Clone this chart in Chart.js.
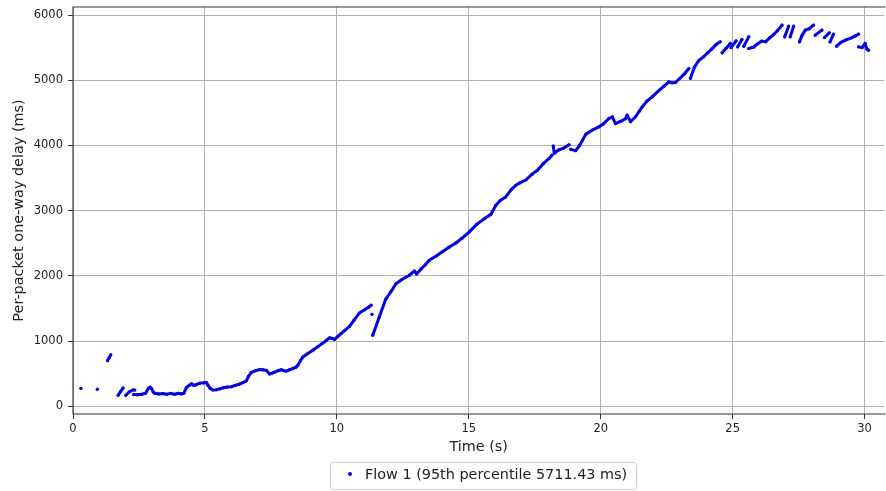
<!DOCTYPE html>
<html>
<head>
<meta charset="utf-8">
<script src="https://cdn.jsdelivr.net/npm/chart.js@4.4.1/dist/chart.umd.min.js"></script>
<style>
  html, body { margin: 0; padding: 0; background: #fff; }
</style>
</head>
<body>
<canvas id="chart" width="886" height="491"></canvas>
<script>
// time (s) and per-packet delay (ms), null = gap between runs of packets
const times = [
  0.30, null,
  0.92, null,
  1.31, 1.37, 1.43, null,
  1.71, 1.80, 1.90, null,
  2.00, 2.13, 2.26, 2.34, null,
  2.30, 2.45, 2.60, 2.75, 2.85, 2.92, 2.98, 3.04, 3.10, 3.25, 3.40, 3.55, 3.70, 3.85, 4.00, 4.10, 4.20,
  4.30, 4.40, 4.49, 4.58, 4.66, 4.80, 4.95, 5.06, 5.12, 5.20, 5.31, 5.45, 5.56, 5.70, 5.85, 6.00, 6.15,
  6.30, 6.45, 6.57, 6.65, 6.76, 6.90, 7.07, 7.20, 7.33, 7.45, 7.55, 7.64, 7.76, 7.89, 8.00, 8.08, 8.20,
  8.33, 8.45, 8.52, 8.62, 8.71, 8.90, 9.09, 9.28, 9.47, 9.60, 9.72, 9.82, 9.91, 10.05, 10.16, 10.30,
  10.48, 10.65, 10.85, 11.05, 11.20, 11.30, null,
  11.33, null,
  11.36, 11.60, 11.85, 12.05, 12.24, 12.45, 12.60, 12.75, 12.94, 13.02, 13.20, 13.35, 13.50, 13.75,
  14.00, 14.25, 14.51, 14.75, 15.02, 15.30, 15.60, 15.84, 16.02, 16.20, 16.40, 16.60, 16.78, 16.95,
  17.16, 17.40, 17.60, 17.82, 18.04, 18.15, null,
  18.20, 18.24, 18.40, 18.60, 18.80, null,
  18.86, 19.05, 19.20, 19.43, 19.70, 19.93, 20.10, 20.30, 20.44, 20.56, 20.75, 20.94, 21.00, 21.13,
  21.32, 21.45, 21.57, 21.75, 21.95, 22.20, 22.40, 22.58, 22.70, 22.83, 23.00, 23.20, 23.34, null,
  23.40, 23.55, 23.71, 23.90, 24.05, 24.21, 24.38, 24.53, null,
  24.60, 24.75, 24.91, null,
  24.94, 25.13, null,
  25.19, 25.35, null,
  25.42, 25.61, null,
  25.61, 25.80, 25.95, 26.10, 26.25, 26.40, 26.55, 26.70, 26.87, null,
  26.97, 27.12, null,
  27.18, 27.31, null,
  27.53, 27.62, 27.75, 27.90, 28.06, null,
  28.13, 28.38, null,
  28.48, 28.66, null,
  28.69, 28.82, null,
  28.94, 29.10, 29.30, 29.50, 29.65, 29.77, null,
  29.77, 29.90, 30.02, 30.08, 30.15
];
const delays = [
  276, null,
  262, null,
  700, 745, 790, null,
  169, 225, 281, null,
  169, 220, 250, 250, null,
  180, 178, 185, 200, 270, 295, 270, 220, 200, 190, 195, 185, 198, 185, 200, 190, 200,
  290, 320, 345, 320, 330, 355, 360, 365, 320, 275, 250, 255, 268, 285, 295, 300, 320,
  340, 365, 390, 460, 520, 545, 563, 560, 550, 495, 510, 525, 545, 560, 545, 540, 560,
  578, 600, 630, 700, 756, 810, 860, 915, 970, 1010, 1050, 1040, 1025, 1075, 1115, 1165,
  1225, 1320, 1430, 1480, 1520, 1550, null,
  1410, null,
  1090, 1360, 1640, 1760, 1880, 1940, 1975, 2010, 2075, 2030, 2110, 2170, 2240, 2300,
  2370, 2440, 2505, 2580, 2675, 2790, 2880, 2945, 3080, 3160, 3210, 3320, 3390, 3430,
  3470, 3560, 3620, 3720, 3800, 3850, null,
  3990, 3880, 3930, 3960, 4010, null,
  3940, 3920, 4000, 4170, 4240, 4285, 4330, 4410, 4440, 4335, 4370, 4410, 4465, 4365,
  4440, 4520, 4590, 4680, 4745, 4840, 4910, 4975, 4960, 4965, 5030, 5110, 5180, null,
  5030, 5200, 5300, 5360, 5420, 5480, 5550, 5590, null,
  5420, 5490, 5564, null,
  5500, 5604, null,
  5512, 5625, null,
  5522, 5665, null,
  5487, 5510, 5560, 5600, 5590, 5650, 5700, 5760, 5845, null,
  5665, 5829, null,
  5665, 5829, null,
  5589, 5680, 5768, 5790, 5845, null,
  5691, 5768, null,
  5655, 5727, null,
  5589, 5706, null,
  5522, 5580, 5620, 5650, 5680, 5706, null,
  5512, 5500, 5564, 5480, 5461
];
const xTicks = [0, 5, 10, 15, 20, 25, 30];
const yTicks = [0, 1000, 2000, 3000, 4000, 5000, 6000];
const seriesLabel = 'Flow 1 (95th percentile 5711.43 ms)';

const fontFamily = '"DejaVu Sans", sans-serif';
const points = times.map((t, i) => ({ x: t, y: delays[i] }));

// plot frame + matplotlib-like legend box
const framePlugin = {
  id: 'frame',
  afterDraw(chart) {
    const ctx = chart.ctx;
    const a = chart.chartArea;
    ctx.save();
    ctx.strokeStyle = '#333';
    ctx.lineWidth = 1.1;
    ctx.beginPath();
    ctx.moveTo(a.right + 1, a.top);
    ctx.lineTo(a.left, a.top);
    ctx.lineTo(a.left, a.bottom);
    ctx.lineTo(a.right + 1, a.bottom);
    ctx.stroke();

    // legend
    let bx = 330.5, by = 462.5, bw = 306, bh = 27, r = 3;
    ctx.fillStyle = '#fff';
    ctx.strokeStyle = '#cccccc';
    ctx.lineWidth = 1;
    ctx.beginPath();
    ctx.moveTo(bx + r, by);
    ctx.arcTo(bx + bw, by, bx + bw, by + bh, r);
    ctx.arcTo(bx + bw, by + bh, bx, by + bh, r);
    ctx.arcTo(bx, by + bh, bx, by, r);
    ctx.arcTo(bx, by, bx + bw, by, r);
    ctx.closePath();
    ctx.fill();
    ctx.stroke();
    ctx.fillStyle = '#0000ff';
    ctx.beginPath();
    ctx.arc(350, 474, 2, 0, Math.PI * 2);
    ctx.fill();
    ctx.fillStyle = '#222';
    ctx.font = '14.4px ' + fontFamily;
    ctx.textBaseline = 'middle';
    ctx.textAlign = 'left';
    ctx.fillText(seriesLabel, 365, 475);
    ctx.restore();
  }
};

const ctx = document.getElementById('chart').getContext('2d');
new Chart(ctx, {
  type: 'scatter',
  data: {
    datasets: [{
      label: seriesLabel,
      data: points,
      showLine: true,
      spanGaps: false,
      borderColor: '#0000ff',
      backgroundColor: '#0000ff',
      borderWidth: 3,
      borderCapStyle: 'round',
      borderJoinStyle: 'round',
      pointRadius: 1.6,
      pointBorderWidth: 0,
      pointHoverRadius: 0
    }]
  },
  options: {
    responsive: false,
    animation: false,
    events: [],
    layout: { padding: { left: 0, right: 0, top: 7, bottom: 27 } },
    plugins: {
      legend: { display: false },
      tooltip: { enabled: false }
    },
    scales: {
      x: {
        type: 'linear',
        min: 0,
        max: 30.75,
        afterFit(scale) {
          scale.height = 50;
          scale.paddingLeft = 0;
          scale.paddingRight = 0;
        },
        afterBuildTicks(scale) { scale.ticks = xTicks.map(v => ({ value: v })); },
        grid: { color: '#b0b0b0', lineWidth: 1, tickColor: '#333', tickLength: 5 },
        border: { display: false },
        ticks: {
          font: { family: fontFamily, size: 11.5 }, color: '#222', padding: 3, maxRotation: 0,
          callback: v => String(v)
        },
        title: {
          display: true, text: 'Time (s)', color: '#222',
          font: { family: fontFamily, size: 14.4 }, padding: { top: 0, bottom: 8 }
        }
      },
      y: {
        type: 'linear',
        min: -118,
        max: 6123,
        afterFit(scale) {
          scale.width = 73;
          scale.paddingTop = 0;
          scale.paddingBottom = 0;
        },
        afterBuildTicks(scale) { scale.ticks = yTicks.map(v => ({ value: v })); },
        grid: { color: '#b0b0b0', lineWidth: 1, tickColor: '#333', tickLength: 5 },
        border: { display: false },
        ticks: {
          font: { family: fontFamily, size: 11.5 }, color: '#222', padding: 5,
          callback: v => String(v)
        },
        title: {
          display: true, text: 'Per-packet one-way delay (ms)', color: '#222',
          font: { family: fontFamily, size: 14.4 }, padding: { top: 11, bottom: 0 }
        }
      }
    }
  },
  plugins: [framePlugin]
});
</script>
</body>
</html>
